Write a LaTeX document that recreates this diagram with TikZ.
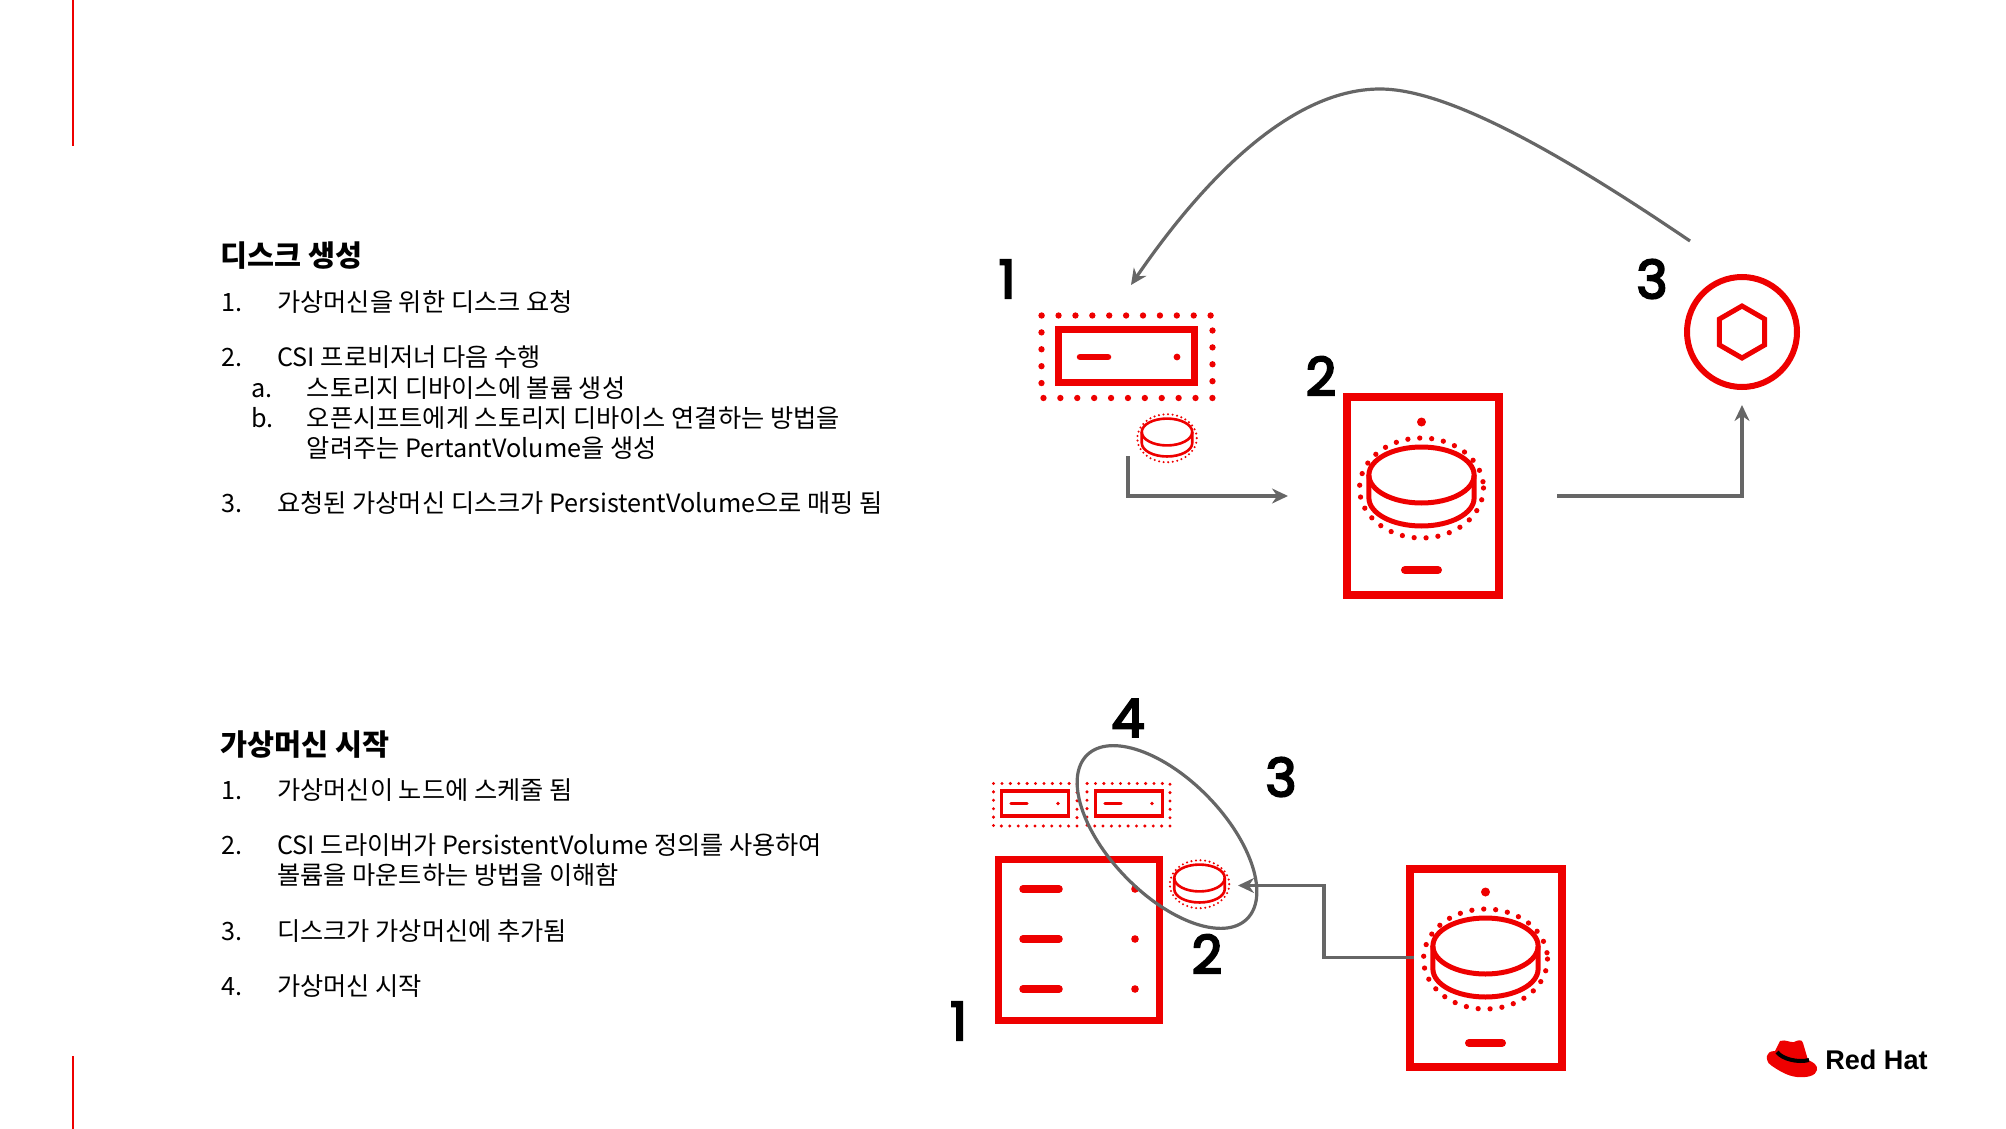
\documentclass[tikz,border=0pt]{standalone}
\usepackage{xcolor}
\usepackage{fontspec}
\setmainfont{Noto Sans CJK KR}
\newfontfamily\numfont{Poppins}[FakeBold=4]
\newfontfamily\logofont{Liberation Sans}
\usetikzlibrary{shapes.geometric,arrows.meta}

\definecolor{hatred}{HTML}{EE0000}
\definecolor{flowgray}{HTML}{666666}
\def\px{0.02cm}

\tikzset{
  title/.style={anchor=base west,inner sep=0,font=\fontsize{16.7}{20}\selectfont\bfseries},
  item/.style={anchor=base west,inner sep=0,font=\fontsize{14.35}{17}\selectfont},
  numlabel/.style={inner sep=0,font=\fontsize{30}{36}\selectfont\numfont},
  redbox/.style={rectangle,draw=hatred,inner sep=0,line width=#1*\px},
  flow/.style={draw=flowgray,line width=3.2*\px,-{Stealth[length=16*\px,width=15*\px]}},
  redbar/.style={draw=hatred,line cap=round,line width=#1*\px},
  reddot/.style={fill=hatred},
}

% disk with its ring of dots: x, y, scale, line, dot, gap
\newcommand{\diskicon}[6]{
  \begin{scope}[shift={(#1,#2)},scale=#3]
  \draw[hatred,line width=#4*\px] (0,0) ellipse [x radius=52.6,y radius=28];
  \draw[hatred,line width=#4*\px] (-52.6,0) -- (-52.6,23) arc [start angle=180,end angle=0,x radius=52.6,y radius=28] -- (52.6,0);
  \draw[hatred,line cap=round,line width=#5,dash pattern=on 0pt off #6] (0,13) ellipse [x radius=62,y radius=50];
  \end{scope}
}
% dotted frame: left, top, right, bottom, dot, gap
\newcommand{\dotframe}[6]{
  \draw[hatred,line cap=round,line width=#5,dash pattern=on 0pt off #6] (#1,#2) rectangle (#3,#4);
}

\begin{document}
\begin{tikzpicture}[x=0.02cm,y=-0.02cm]
\useasboundingbox (0,0) rectangle (2006,1129);

% side marks
\draw[hatred,line width=1.6*\px] (73,0) -- (73,146);
\draw[hatred,line width=1.6*\px] (73,1056) -- (73,1129);

% top text
\node at (220,266) [title] (t1) {디스크 생성};
\node at (221,311) [item] (t1n1) {1.};
\node at (277,311) [item] (t1i1) {가상머신을 위한 디스크 요청};
\node at (221,366) [item] (t1n2) {2.};
\node at (277,366) [item] (t1i2) {CSI 프로비저너 다음 수행};
\node at (251,397) [item] (t1na) {a.};
\node at (306.5,397) [item] (t1ia) {스토리지 디바이스에 볼륨 생성};
\node at (251,427) [item] (t1nb) {b.};
\node at (306.5,427) [item] (t1ib) {오픈시프트에게 스토리지 디바이스 연결하는 방법을};
\node at (306.5,457) [item] (t1ic) {알려주는 PertantVolume을 생성};
\node at (221,512) [item] (t1n3) {3.};
\node at (277,512) [item] (t1i3) {요청된 가상머신 디스크가 PersistentVolume으로 매핑 됨};

% bottom text
\node at (220,755.5) [title] (t2) {가상머신 시작};
\node at (221,799) [item] (t2n1) {1.};
\node at (277,799) [item] (t2i1) {가상머신이 노드에 스케줄 됨};
\node at (221,854) [item] (t2n2) {2.};
\node at (277,854) [item] (t2i2) {CSI 드라이버가 PersistentVolume 정의를 사용하여};
\node at (277,884) [item] (t2i2b) {볼륨을 마운트하는 방법을 이해함};
\node at (221,940) [item] (t2n3) {3.};
\node at (277,940) [item] (t2i3) {디스크가 가상머신에 추가됨};
\node at (221,995) [item] (t2n4) {4.};
\node at (277,995) [item] (t2i4) {가상머신 시작};

% top diagram
\node at (1007,279) [numlabel] (a1) {1};
\node at (1321,376) [numlabel] (a2) {2};
\node at (1652,279) [numlabel] (a3) {3};

\dotframe{1041.5}{315.5}{1212.5}{398}{3.6pt}{9.616pt}
\node at (1126.5,356) [redbox=7,minimum width=136.5*\px,minimum height=53.5*\px] (vm) {};
\draw[redbar=6.5] (1080,357) -- (1108,357);
\fill[reddot] (1177,357) circle (3.4);
\diskicon{1167}{432}{0.48}{2.6}{1.3pt}{2.6pt}

\node at (1423,496) [redbox=8,minimum width=152*\px,minimum height=198*\px] (store) {};
\fill[reddot] (1421.5,422) circle (4.5);
\draw[redbar=8] (1405,570) -- (1438,570);
\diskicon{1421.5}{475}{1}{5}{3pt}{6.8pt}

\node at (1742,332) [circle,draw=hatred,inner sep=0,line width=6*\px,minimum size=110*\px] (pv) {};
\node at (1742,332) [regular polygon,regular polygon sides=6,shape border rotate=30,draw=hatred,inner sep=0,line width=5*\px,minimum size=52*\px] (pvhex) {};

\coordinate (vmout) at (1128,456);
\coordinate (storein) at (1288,496);
\coordinate (storeout) at (1557,496);
\coordinate (pvin) at (1742,405);
\coordinate (pvout) at (1690,241);
\coordinate (peak) at (1380,89);
\coordinate (vmin) at (1131,285);
\draw[flow] (vmout) |- (storein);
\draw[flow] (storeout) -| (pvin);
\draw[flow] (pvout) .. controls (1556,150) and (1446,89) .. (peak) .. controls (1286,89) and (1196,190) .. (vmin);

% bottom diagram
\node at (958.5,1021) [numlabel] (b1) {1};
\node at (1207,954) [numlabel] (b2) {2};
\node at (1281,777) [numlabel] (b3) {3};
\node at (1128,718) [numlabel] (b4) {4};

\dotframe{993.5}{783.5}{1077}{826}{1.9pt}{4.78pt}
\node at (1035,803.5) [redbox=3.6,minimum width=67*\px,minimum height=25*\px] (pod1) {};
\draw[redbar=3.4] (1011,803.5) -- (1027,803.5);
\fill[reddot] (1058,803.5) circle (1.8);
\dotframe{1087}{783.5}{1170}{826}{1.9pt}{4.76pt}
\node at (1129,803.5) [redbox=3.6,minimum width=67*\px,minimum height=25*\px] (pod2) {};
\draw[redbar=3.4] (1105,803.5) -- (1121,803.5);
\fill[reddot] (1152,803.5) circle (1.8);

\node at (1079,940) [redbox=7.5,minimum width=161*\px,minimum height=161*\px] (node) {};
\draw[redbar=7.5] (1023,889) -- (1059,889);
\fill[reddot] (1135,889) circle (3.8);
\draw[redbar=7.5] (1023,939) -- (1059,939);
\fill[reddot] (1135,939) circle (3.8);
\draw[redbar=7.5] (1023,989) -- (1059,989);
\fill[reddot] (1135,989) circle (3.8);

\diskicon{1199.5}{878}{0.48}{2.6}{1.3pt}{2.6pt}

\node at (1486,967.5) [redbox=8,minimum width=152*\px,minimum height=198*\px] (store2) {};
\fill[reddot] (1485.5,892) circle (4.5);
\draw[redbar=8] (1469,1043) -- (1502,1043);
\diskicon{1485.5}{946}{1}{5}{3pt}{6.8pt}

\node at (1167,837) [ellipse,draw=flowgray,inner sep=0,line width=3.2*\px,minimum width=229*\px,minimum height=115*\px,rotate=-45.8] (ring) {};

\coordinate (store2out) at (1414,957.5);
\coordinate (bend) at (1324,885.5);
\coordinate (diskin) at (1238,885.5);
\draw[flow] (store2out) -| (bend) -- (diskin);

% logo
\fill[hatred] (1780,1041) .. controls (1786,1039) and (1790,1043) .. (1794,1042) .. controls (1798,1040) and (1802,1039) .. (1803,1043) -- (1808,1060) .. controls (1813,1062) and (1818,1065) .. (1817,1070) .. controls (1816,1076) and (1806,1078) .. (1797,1077) .. controls (1787,1076) and (1778,1070) .. (1772,1066) .. controls (1766,1063) and (1766,1056) .. (1768,1054) .. controls (1770,1051) and (1773,1051) .. (1775,1051) -- cycle;
\draw[black,line width=4*\px] (1777,1052) .. controls (1782,1059) and (1798,1063) .. (1809,1060);
\node at (1825,1069) [anchor=base west,inner sep=0,font=\fontsize{15.4}{18}\selectfont\logofont\bfseries] (logo) {Red Hat};
\end{tikzpicture}
\end{document}
